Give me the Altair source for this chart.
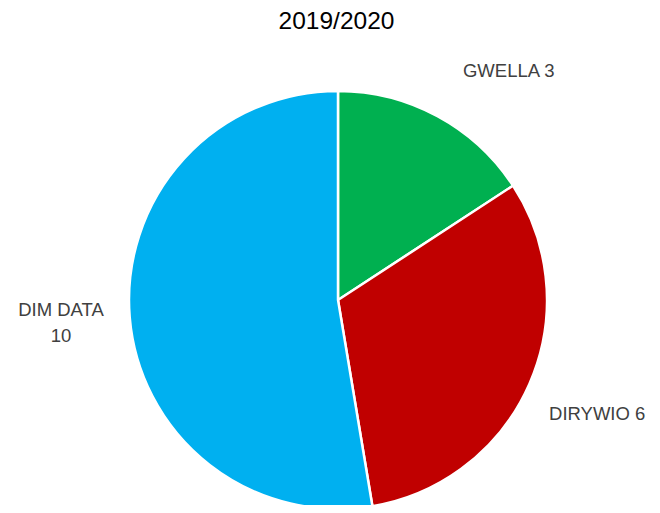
import altair as alt
import pandas as pd

title = "2019/2020"
categories = ["GWELLA", "DIRYWIO", "DIM DATA"]
values = [3, 6, 10]
labels = ["GWELLA 3", "DIRYWIO 6", "DIM DATA\n10"]
colors = ["#00B050", "#C00000", "#00B0F0"]

df = pd.DataFrame({"cat": categories, "val": values, "label": labels, "order": [0, 1, 2]})

base = alt.Chart(df).encode(
    theta=alt.Theta("val:Q", stack=True),
    order=alt.Order("order:Q"),
    x=alt.value(330), y=alt.value(292),
)

pie = base.mark_arc(outerRadius=209, stroke="white", strokeWidth=2.5).encode(
    color=alt.Color("cat:N", scale=alt.Scale(domain=categories, range=colors), legend=None),
)

text_style = dict(radius=283, fontSize=18.5, font="Liberation Sans", color="#404040",
                  lineBreak="\n", lineHeight=26, align="center", baseline="middle")


def label_layer(name, dx, dy):
    return base.mark_text(dx=dx, dy=dy, **text_style).encode(
        text="label:N",
        opacity=alt.condition(alt.datum.cat == name, alt.value(1), alt.value(0)),
    )


layers = [label_layer("GWELLA", 36, 20), label_layer("DIRYWIO", 0, 0), label_layer("DIM DATA", 5, -13)]

title_mark = alt.Chart(pd.DataFrame({"t": [title]})).mark_text(
    fontSize=24.5, font="Liberation Sans", color="#000000", align="center", baseline="middle"
).encode(text="t:N", x=alt.value(328.5), y=alt.value(14))

chart = alt.layer(pie, *layers, title_mark).properties(
    width=644, height=497,
    autosize=alt.AutoSizeParams(type="none"),
    padding=0,
).configure_view(stroke=None)

chart.save("out.html", embed_options={"renderer": "svg", "actions": False})
